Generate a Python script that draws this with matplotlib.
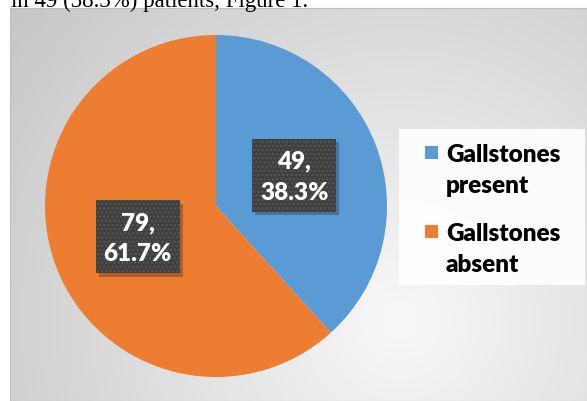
import numpy as np
import matplotlib
matplotlib.use("Agg")
from matplotlib import pyplot as plt
from matplotlib.patches import Rectangle

labels = ["Gallstones\npresent", "Gallstones\nabsent"]
counts = [49, 79]
percents = [38.3, 61.7]
colors = ["#5b9bd5", "#ed7d31"]
caption = "in 49 (38.3%) patients, Figure 1."

W, H = 587, 402
fig = plt.figure(figsize=(W / 100, H / 100), dpi=100)
fig.patch.set_facecolor("white")

# background axes in pixel coordinates
bg = fig.add_axes([0, 0, 1, 1])
bg.set_xlim(0, W)
bg.set_ylim(H, 0)
bg.axis("off")

x0, y0 = 10, 9
xx, yy = np.meshgrid(np.arange(x0, W), np.arange(y0, H))
d = np.hypot(xx - 400, yy - 320)
shade = np.clip(248 - 0.1 * d, 190, 250) / 255
img = np.dstack([shade, shade, shade])
bg.imshow(img, extent=(x0, W, H, y0), aspect="auto", zorder=0)
bg.add_patch(Rectangle((x0, y0), W - x0, H - y0, fill=False,
                       edgecolor="#bfbfbf", lw=0.8, zorder=1))

fig.text(11 / W, 1 - 7 / H, caption, family="Liberation Serif", fontsize=16.5,
         va="baseline", ha="left")

# legend box drawn by hand so the square sits on the first line
bg.add_patch(Rectangle((399, 130), 186, 156, facecolor="white",
                       edgecolor="none", alpha=0.9, zorder=2))
for i, (lab, col) in enumerate(zip(labels, colors)):
    ytop = 147 + i * 79
    bg.add_patch(Rectangle((425, ytop), 13, 13, facecolor=col,
                           edgecolor="none", zorder=3))
    bg.text(446, ytop - 3, lab, family="Lato", fontweight="heavy",
            fontsize=17.5, va="top", ha="left", linespacing=1.5,
            color="black", zorder=3)

# pie
cx, cy, r = 216, 207, 171
pax = fig.add_axes([(cx - r) / W, (H - cy - r) / H, 2 * r / W, 2 * r / H])
wedges, _ = pax.pie(counts, colors=colors, startangle=90, counterclock=False,
                    radius=1, wedgeprops=dict(linewidth=0))
pax.set_xlim(-1, 1)
pax.set_ylim(-1, 1)
pax.axis("off")

bw, bh = 84 / r, 73 / r
for w, n, p in zip(wedges, counts, percents):
    ang = np.deg2rad((w.theta1 + w.theta2) / 2)
    tx, ty = 0.49 * np.cos(ang), 0.5 * np.sin(ang)
    pax.add_patch(Rectangle((tx - bw / 2 + 0.018, ty - bh / 2 - 0.022), bw, bh,
                            facecolor="black", alpha=0.25, edgecolor="none",
                            zorder=3))
    pax.add_patch(Rectangle((tx - bw / 2, ty - bh / 2), bw, bh,
                            facecolor="#404040", edgecolor="#575757",
                            hatch="....", lw=0, zorder=4))
    pax.text(tx, ty - 0.005, f"{n},\n{p}%", ha="center", va="center",
             color="white", family="Lato", fontweight="heavy", fontsize=17.5,
             linespacing=1.5, zorder=5)

fig.savefig("out.png", dpi=100)
